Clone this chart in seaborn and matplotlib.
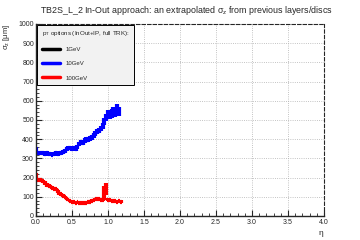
import numpy as np
import seaborn as sns
import matplotlib
matplotlib.use('Agg')
import matplotlib.pyplot as plt
from matplotlib.ticker import MultipleLocator
from matplotlib.lines import Line2D

# eta bins
eta_blue = [0.0, 0.025, 0.05, 0.075, 0.1, 0.125, 0.15, 0.175, 0.2, 0.225, 0.25, 0.275,
            0.3, 0.325, 0.35, 0.375, 0.4, 0.425, 0.45, 0.475, 0.5, 0.525, 0.55, 0.575,
            0.6, 0.625, 0.65, 0.675, 0.7, 0.725, 0.75, 0.775, 0.8, 0.825, 0.85, 0.875,
            0.9, 0.925, 0.95, 0.975, 1.0, 1.025, 1.05, 1.075, 1.1, 1.125, 1.15]
sigma_10 = [345, 330, 328, 330, 327, 325, 328, 322, 325, 320, 323, 328,
            325, 330, 328, 335, 340, 350, 355, 352, 350, 355, 348, 360,
            375, 385, 380, 392, 400, 395, 405, 410, 420, 430, 440, 445,
            455, 470, 490, 515, 530, 525, 535, 545, 540, 555, 545]
err_10 = [15, 10, 10, 10, 10, 10, 10, 10, 10, 10, 10, 10,
          10, 10, 10, 10, 10, 10, 10, 10, 10, 10, 10, 12,
          12, 12, 12, 12, 12, 12, 12, 12, 12, 12, 14, 14,
          14, 15, 18, 18, 20, 20, 22, 25, 25, 30, 25]

eta_red = [0.0, 0.025, 0.05, 0.075, 0.1, 0.125, 0.15, 0.175, 0.2, 0.225, 0.25, 0.275,
           0.3, 0.325, 0.35, 0.375, 0.4, 0.425, 0.45, 0.475, 0.5, 0.525, 0.55, 0.575,
           0.6, 0.625, 0.65, 0.675, 0.7, 0.725, 0.75, 0.775, 0.8, 0.825, 0.85, 0.875,
           0.9, 0.925, 0.95, 0.975, 1.0, 1.025, 1.05, 1.075, 1.1, 1.125, 1.15, 1.175]
sigma_100 = [205, 190, 188, 185, 180, 170, 160, 158, 152, 148, 142, 140,
             128, 118, 112, 105, 98, 90, 85, 78, 75, 72, 70, 72,
             70, 68, 70, 67, 68, 72, 75, 80, 85, 88, 90, 88,
             85, 82, 120, 140, 85, 82, 80, 78, 76, 74, 76, 75]
err_100 = [20, 10, 10, 10, 10, 10, 10, 8, 8, 8, 8, 8,
           8, 8, 8, 8, 6, 6, 6, 6, 6, 6, 6, 6,
           6, 6, 6, 6, 6, 6, 6, 6, 6, 6, 6, 6,
           6, 6, 35, 30, 8, 6, 6, 6, 6, 6, 6, 6]

labels = ['1GeV', '10GeV', '100GeV']
colors = ['black', '#0000ff', '#ff0000']

sns.set_style('ticks')
plt.rcParams['font.family'] = ['Liberation Sans', 'DejaVu Sans']
plt.rcParams['mathtext.fontset'] = 'custom'
plt.rcParams['mathtext.rm'] = 'Liberation Sans'
plt.rcParams['mathtext.it'] = 'Liberation Sans'

fig = plt.figure(figsize=(3.6, 2.4), dpi=100)
ax = fig.add_axes([0.1, 0.1, 0.8, 0.8])

ax.errorbar(eta_blue, sigma_10, yerr=err_10, xerr=0.0125, fmt='none',
            ecolor=colors[1], elinewidth=3, capsize=0)
ax.errorbar(eta_red, sigma_100, yerr=err_100, xerr=0.0125, fmt='none',
            ecolor=colors[2], elinewidth=3, capsize=0)

ax.set_xlim(0, 4)
ax.set_ylim(0, 1000)
ax.xaxis.set_major_locator(MultipleLocator(0.5))
ax.xaxis.set_minor_locator(MultipleLocator(0.1))
ax.yaxis.set_major_locator(MultipleLocator(100))
ax.yaxis.set_minor_locator(MultipleLocator(20))
ax.tick_params(axis='both', which='major', direction='in', length=4, width=0.8,
               labelsize=5, pad=1.5)
ax.tick_params(axis='x', which='major', pad=2.5)
ax.tick_params(axis='both', which='minor', direction='in', length=2, width=0.6)
ax.tick_params(top=False, right=False)
ax.grid(True, which='major', linestyle=':', color='#b0b0b0', lw=0.6)
for s in ['top', 'right']:
    ax.spines[s].set_linestyle((0, (3, 2)))
    ax.spines[s].set_linewidth(0.8)
for s in ['left', 'bottom']:
    ax.spines[s].set_linewidth(1.0)

ax.set_ylabel(r'$\sigma_z$ [$\mu$m]', fontsize=5.5, ha='right')
ax.yaxis.set_label_coords(-0.085, 1.0)
ax.set_xlabel(r'$\eta$', fontsize=6, ha='right')
ax.xaxis.set_label_coords(1.0, -0.07)

handles = [Line2D([], [], color=c, lw=2.5) for c in colors]
leg = ax.legend(handles, labels, title=r'p$_T$ options (InOut+IP, full TRK):', loc='upper left',
                bbox_to_anchor=(0.005, 0.995), borderaxespad=0, fontsize=4.3,
                title_fontsize=4.5, frameon=True, fancybox=False, framealpha=1,
                facecolor='#f2f2f2', edgecolor='black', handlelength=3.0,
                labelspacing=1.5, borderpad=0.7, handletextpad=1.0)
leg._legend_box.align = 'left'
leg.get_frame().set_linewidth(0.7)

fig.text(0.11, 0.955, r'TB2S_L_2 In-Out approach: an extrapolated $\sigma_z$ from previous layers/discs',
         fontsize=6.4, ha='left', va='center')

fig.savefig('out.png', dpi=100)
